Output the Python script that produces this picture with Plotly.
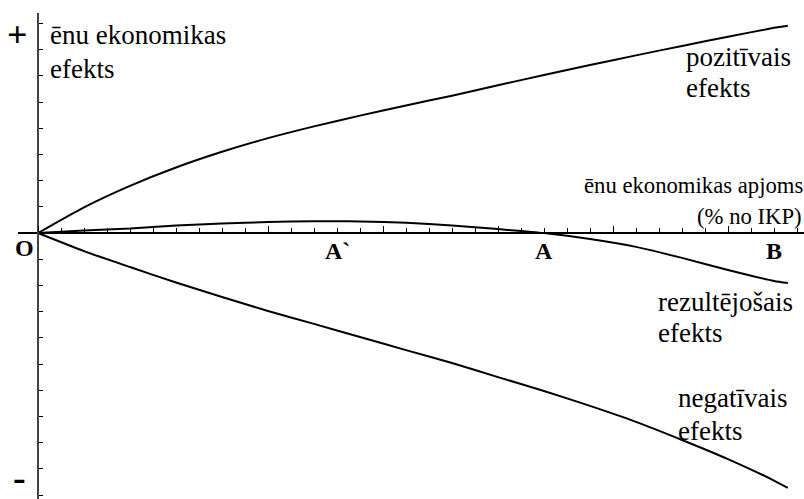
import plotly.graph_objects as go

# ---- data (x in axis-tick units, y in axis-tick units)
positive_x = [0, 2, 4, 6, 8, 10, 12, 14, 16, 18, 20, 22, 24, 26, 28, 30, 32, 32.6]
positive_y = [0, 0.98, 1.8, 2.5, 3.1, 3.62, 4.07, 4.48, 4.87, 5.24, 5.64, 6.03, 6.41, 6.78, 7.14, 7.49, 7.83, 7.91]

negative_x = [0, 2, 4, 6, 8, 10, 12, 14, 16, 18, 20, 22, 24, 26, 28, 30, 32, 32.6]
negative_y = [0, -0.69, -1.30, -1.89, -2.44, -2.98, -3.47, -3.97, -4.47, -4.96, -5.50, -6.03, -6.60, -7.21, -7.90, -8.63, -9.45, -9.73]

result_x = [0, 2, 4, 6, 8, 10, 12, 13, 14, 16, 18, 20, 22, 24, 26, 28, 30, 32, 32.6]
result_y = [0, 0.1, 0.17, 0.29, 0.36, 0.42, 0.45, 0.45, 0.44, 0.39, 0.29, 0.15, 0, -0.23, -0.53, -0.95, -1.41, -1.83, -1.91]

point_names = ["A`", "A", "B"]
point_x = [13, 22, 32]

W, H = 804, 499
SERIF = "Liberation Serif, Times New Roman, serif"

fig = go.Figure()
for xs, ys in [(positive_x, positive_y), (negative_x, negative_y), (result_x, result_y)]:
    fig.add_trace(go.Scatter(x=xs, y=ys, mode="lines",
                             line=dict(color="black", width=2, shape="spline", smoothing=0.6),
                             hoverinfo="skip", showlegend=False))


def px2paper(px, py):
    return px / W, 1 - py / H


annotations = []


def label(text, px, py, size, xanchor="left", bold=False):
    x, y = px2paper(px, py)
    annotations.append(dict(text=f"<b>{text}</b>" if bold else text, x=x, y=y,
                            xref="paper", yref="paper", xanchor=xanchor, yanchor="middle",
                            showarrow=False,
                            font=dict(family=SERIF, size=size, color="black")))


# axis sign labels
label("+", 17, 35, 36, xanchor="center", bold=True)
label("-", 19, 477, 38, xanchor="center", bold=True)
# y-axis title
label("ēnu ekonomikas", 48, 35, 27)
label("efekts", 48, 69, 27)
# x-axis title
label("ēnu ekonomikas apjoms", 805, 185, 22.7, xanchor="right")
label("(% no IKP)", 804, 216, 22.7, xanchor="right")
# curve labels
label("pozitīvais", 684, 57, 27)
label("efekts", 684, 88, 27)
label("rezultējošais", 656, 302, 27)
label("efekts", 656, 333, 27)
label("negatīvais", 676, 398, 27)
label("efekts", 676, 431, 27)
# origin
label("O", 24, 248, 24, xanchor="center", bold=True)
# points on the horizontal axis
for name, xv in zip(point_names, point_x):
    annotations.append(dict(text=f"<b>{name}</b>", x=xv, y=1 - 251 / H, xref="x", yref="paper",
                            xanchor="center", yanchor="middle", showarrow=False,
                            font=dict(family=SERIF, size=24, color="black")))

px0, py0 = 38, 233      # origin in pixels
ux, uy = 23.0, 26.2     # pixels per tick unit

fig.update_layout(
    width=W, height=H,
    margin=dict(l=0, r=0, t=0, b=0),
    paper_bgcolor="white", plot_bgcolor="white",
    font=dict(family=SERIF, color="black"),
    annotations=annotations,
    xaxis=dict(
        domain=[18 / W, 1],
        range=[(18 - px0) / ux, (W - px0) / ux],
        anchor="free", position=(H - py0) / H,
        showline=True, linecolor="black", linewidth=1.5,
        showgrid=False, zeroline=False, showticklabels=False,
        ticks="inside", tickmode="linear", tick0=0, dtick=5, ticklen=6,
        tickcolor="black", tickwidth=1,
        minor=dict(ticks="inside", tick0=0, dtick=1, ticklen=4, tickcolor="black", tickwidth=1, showgrid=False),
        fixedrange=True,
    ),
    yaxis=dict(
        domain=[0, (H - 13) / H],
        range=[(py0 - H) / uy, (py0 - 13) / uy],
        anchor="free", position=px0 / W,
        showline=True, linecolor="#444", linewidth=2,
        showgrid=False, zeroline=False, showticklabels=False,
        ticks="inside", tickmode="linear", tick0=0, dtick=1, ticklen=4,
        tickcolor="black", tickwidth=1,
        fixedrange=True,
    ),
)

fig.write_html("out.html", config={"displayModeBar": False},
               post_script="document.body.style.margin='0';document.body.style.overflow='hidden';")
